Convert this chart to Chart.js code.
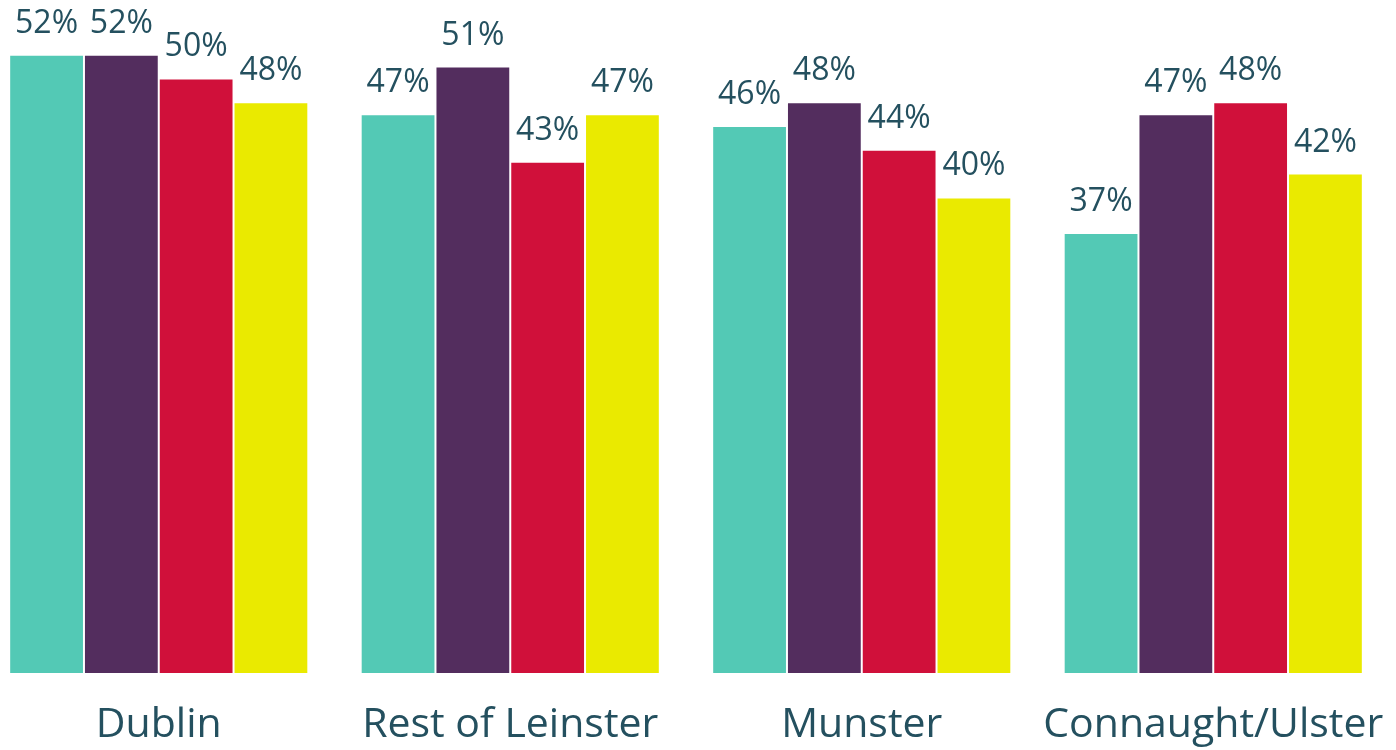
<!DOCTYPE html>
<html>
<head>
<meta charset="utf-8">
<script src="https://cdn.jsdelivr.net/npm/chart.js@4"></script>
<style>
    html, body { margin: 0; padding: 0; background: #fff; overflow: hidden; }
    #wrap { position: absolute; left: -17px; top: 0; width: 1406px; height: 750px; }
</style>
</head>
<body>
<div id="wrap"><canvas id="chart"></canvas></div>
<script>
// Regions and the four series
const regions = ['Dublin', 'Rest of Leinster', 'Munster', 'Connaught/Ulster'];
const series1 = [52, 47, 46, 37];
const series2 = [52, 51, 48, 47];
const series3 = [50, 43, 44, 48];
const series4 = [48, 47, 40, 42];
const seriesColors = ['#53C9B5', '#532D5E', '#D0103A', '#EAEA00'];

const textColor = '#24505F';

// Value labels above each bar, region names under each group
const chartLabels = {
    id: 'chartLabels',
    afterDatasetsDraw(chart) {
        const ctx = chart.ctx;
        ctx.save();
        ctx.fillStyle = textColor;
        ctx.textAlign = 'center';
        ctx.font = '32px "Open Sans"';
        ctx.textBaseline = 'alphabetic';
        chart.data.datasets.forEach((ds, i) => {
            chart.getDatasetMeta(i).data.forEach((bar, j) => {
                ctx.fillText(ds.data[j] + '%', bar.x, bar.y - 22);
            });
        });
        ctx.font = '41px "Open Sans"';
        ctx.textBaseline = 'middle';
        const xScale = chart.scales.x;
        regions.forEach((name, j) => {
            ctx.fillText(name, xScale.getPixelForValue(j), chart.chartArea.bottom + 52);
        });
        ctx.restore();
    }
};

const allSeries = [series1, series2, series3, series4];

new Chart(document.getElementById('chart'), {
    type: 'bar',
    data: {
        labels: regions,
        datasets: allSeries.map((values, i) => ({
            label: 'Series ' + (i + 1),
            data: values,
            backgroundColor: seriesColors[i],
            borderColor: '#ffffff',
            borderWidth: 1,
            borderSkipped: 'bottom',
            categoryPercentage: 0.851,
            barPercentage: 1
        }))
    },
    options: {
        responsive: true,
        maintainAspectRatio: false,
        animation: false,
        layout: {
            padding: { top: 0, bottom: 77, left: 0, right: 0 }
        },
        plugins: {
            legend: { display: false },
            tooltip: { enabled: false }
        },
        scales: {
            x: {
                display: false
            },
            y: {
                display: false,
                min: 0,
                max: 56.6
            }
        }
    },
    plugins: [chartLabels]
});
</script>
</body>
</html>
